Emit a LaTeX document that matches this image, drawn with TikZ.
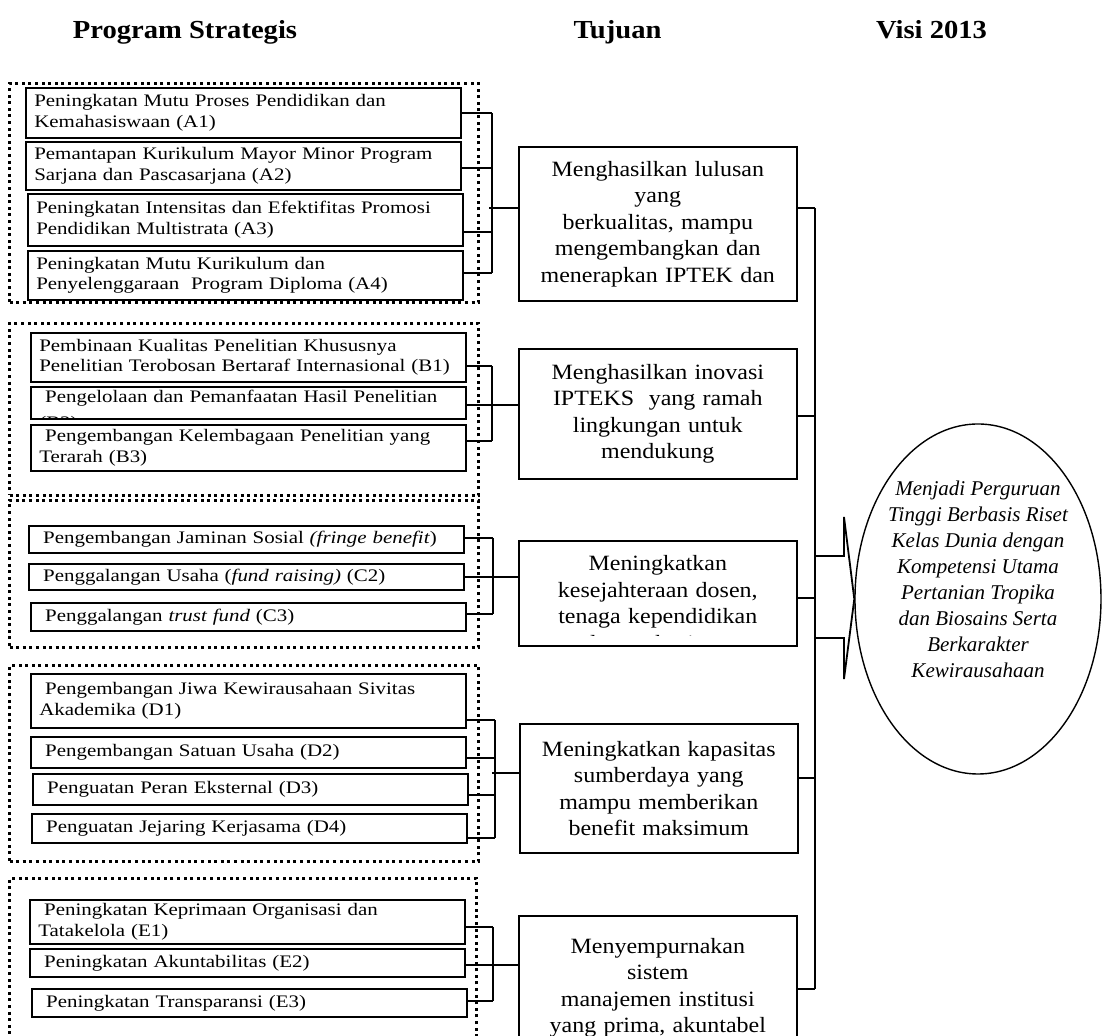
\documentclass[tikz,border=0pt]{standalone}
\usepackage{fontspec}
\setmainfont{Liberation Serif}
\newfontfamily\boxfont{Liberation Serif}[FakeStretch=1.19]
\newfontfamily\goalfont{Liberation Serif}[FakeStretch=1.1]
\usepackage{tikz}
\usetikzlibrary{shapes.geometric}

\begin{document}
\begin{tikzpicture}[
  x=1pt, y=-1pt,
  head/.style={anchor=base, font=\goalfont\bfseries\fontsize{13pt}{15pt}\selectfont},
  grp/.style={draw, line width=1.5pt, dash pattern=on 1.5pt off 1.8pt, anchor=north west, minimum width=234.5pt, inner sep=0pt},
  pbox/.style={draw, line width=0.8pt, anchor=north west, align=left, text width=209pt, inner xsep=4.25pt, inner ysep=1.5pt, font=\boxfont\fontsize{8.8pt}{10.3pt}\selectfont},
  ptext/.style={pbox, draw=none},
  gbox/.style={draw, line width=0.8pt, anchor=north west, align=center, text width=131pt, inner xsep=4pt, inner ysep=1.5pt, font=\goalfont\fontsize{10.9pt}{13.25pt}\selectfont},
  gtext/.style={gbox, draw=none, anchor=center},
  visi/.style={draw, ellipse, line width=0.7pt, minimum width=123pt, minimum height=175pt, inner sep=0pt},
  visitext/.style={align=center, font=\itshape\fontsize{10.5pt}{13pt}\selectfont},
  conn/.style={line width=0.9pt},
  trunk/.style={line width=1.1pt}
]
\useasboundingbox (0,0) rectangle (552.5,518);
\clip (0,0) rectangle (552.5,518);

% column headings
\node[head] (hprog) at (92.5,19.2) {Program Strategis};
\node[head] (htuj) at (308.75,19.2) {Tujuan};
\node[head] (hvisi) at (465.75,19.2) {Visi 2013};

% dotted group frames
\node[grp, minimum height=109.5pt] (grpa) at (4,41) {};
\node[grp, minimum height=86pt] (grpb) at (4,161) {};
\node[grp, minimum height=73.5pt] (grpc) at (4,249.5) {};
\node[grp, minimum height=98pt] (grpd) at (4,332) {};
\node[grp, minimum height=100pt, minimum width=233.5pt] (grpe) at (4,438.5) {};

% program boxes
\node[pbox, minimum height=25pt] (a1) at (12.5,43.5) {Peningkatan Mutu Proses Pendidikan dan\\Kemahasiswaan (A1)};
\node[pbox, minimum height=24pt] (a2) at (12.5,70.5) {Pemantapan Kurikulum Mayor Minor Program\\Sarjana dan Pascasarjana (A2)};
\node[pbox, minimum height=26pt] (a3) at (13.5,96.5) {Peningkatan Intensitas dan Efektifitas Promosi\\Pendidikan Multistrata (A3)};
\node[pbox, minimum height=24.5pt] (a4) at (13.5,125) {Peningkatan Mutu Kurikulum dan\\Penyelenggaraan\ \ Program Diploma (A4)};

\node[pbox, minimum height=24.5pt] (b1) at (15,166) {Pembinaan Kualitas Penelitian Khususnya\\Penelitian Terobosan Bertaraf Internasional (B1)};
\node[pbox, minimum height=16pt] (b2) at (15,193) {};
\begin{scope}
  \clip (b2.north west) rectangle (b2.south east);
  \node[ptext] (b2t) at (b2.north west) {\ Pengelolaan dan Pemanfaatan Hasil Penelitian\\[2.8pt](B2)};
\end{scope}
\node[pbox, minimum height=23pt] (b3) at (15,212) {\ Pengembangan Kelembagaan Penelitian yang\\Terarah (B3)};

\node[pbox, minimum height=13.5pt] (c1) at (14,262.5) {\ Pengembangan Jaminan Sosial \textit{(fringe benefit})};
\node[pbox, minimum height=13pt] (c2) at (14,281.5) {\ Penggalangan Usaha (\textit{fund raising)} (C2)};
\node[pbox, minimum height=14pt] (c3) at (15,301) {\ Penggalangan \textit{trust fund} (C3)};

\node[pbox, minimum height=27pt] (d1) at (15,336.5) {\ Pengembangan Jiwa Kewirausahaan Sivitas\\Akademika (D1)};
\node[pbox, minimum height=15.5pt] (d2) at (15,368) {\ Pengembangan Satuan Usaha (D2)};
\node[pbox, minimum height=15.5pt] (d3) at (16,386.5) {\ Penguatan Peran Eksternal (D3)};
\node[pbox, minimum height=14.5pt] (d4) at (15.5,406.5) {\ Penguatan Jejaring Kerjasama (D4)};

\node[pbox, minimum height=22pt] (e1) at (14.5,449.5) {\ Peningkatan Keprimaan Organisasi dan\\Tatakelola (E1)};
\node[pbox, minimum height=14pt] (e2) at (14.5,474) {\ Peningkatan Akuntabilitas (E2)};
\node[pbox, minimum height=14pt] (e3) at (15.5,494) {\ Peningkatan Transparansi (E3)};

% goals
\node[gbox, minimum height=77pt] (g1) at (259,73) {Menghasilkan lulusan\\yang\\berkualitas, mampu\\mengembangkan dan\\menerapkan IPTEK dan};
\node[gbox, minimum height=65pt] (g2) at (259,174) {Menghasilkan inovasi\\IPTEKS\ \ yang ramah\\lingkungan untuk\\mendukung};
\node[gbox, minimum height=52.5pt] (g3) at (259,270) {};
\begin{scope}
  \clip (g3.north west) rectangle ([yshift=5.5pt]g3.south east);
  \node[gtext] (g3t) at ([yshift=-5pt]g3.center) {Meningkatkan\\kesejahteraan dosen,\\tenaga kependidikan\\dan mahasiswa};
\end{scope}
\node[gbox, minimum height=64.5pt] (g4) at (259.5,361.5) {Meningkatkan kapasitas\\sumberdaya yang\\mampu memberikan\\benefit maksimum};
\node[gbox, minimum height=72pt] (g5) at (259,457.5) {Menyempurnakan\\sistem\\manajemen institusi\\yang prima, akuntabel};

% vision
\node[visi] (visi) at (489,299.5) {};
\node[visitext] (visit) at ([yshift=10pt]visi.center) {Menjadi Perguruan\\Tinggi Berbasis Riset\\Kelas Dunia dengan\\Kompetensi Utama\\Pertanian Tropika\\dan Biosains Serta\\Berkarakter\\Kewirausahaan};

% brackets from programs to goals
\coordinate (ja) at (246,104);
\coordinate (jb) at (246,202.5);
\coordinate (jc) at (246.5,288.5);
\coordinate (jd) at (247.5,386.5);
\coordinate (je) at (246.5,482.5);
\foreach \n/\y in {a1/56.5, a2/84, a3/116, a4/136.5} \draw[conn] (\n.east |- 0,\y) -- (ja |- 0,\y);
\foreach \n/\y in {b1/183, b2/202.5, b3/220.5} \draw[conn] (\n.east |- 0,\y) -- (jb |- 0,\y);
\foreach \n/\y in {c1/269, c2/288.5, c3/307} \draw[conn] (\n.east |- 0,\y) -- (jc |- 0,\y);
\foreach \n/\y in {d1/360, d2/379, d3/397.5, d4/419} \draw[conn] (\n.east |- 0,\y) -- (jd |- 0,\y);
\foreach \n/\y in {e1/463.5, e2/482.5, e3/500.5} \draw[conn] (\n.east |- 0,\y) -- (je |- 0,\y);
\draw[conn] (ja |- 0,56.5) -- (ja |- 0,136.5);
\draw[conn] (jb |- 0,183) -- (jb |- 0,220.5);
\draw[conn] (jc |- 0,269) -- (jc |- 0,307);
\draw[conn] (jd |- 0,360) -- (jd |- 0,419);
\draw[conn] (je |- 0,463.5) -- (je |- 0,500.5);
\foreach \j/\g in {ja/g1, jb/g2, jc/g3, jd/g4, je/g5} \draw[conn] ([xshift=-1.5pt]\j) -- (\g.west |- \j);

% trunk into the vision
\coordinate (t1) at (407.5,104);
\coordinate (t2) at (407.5,208);
\coordinate (t3) at (407.5,299);
\coordinate (t4) at (407.5,389);
\coordinate (t5) at (407.5,494.5);
\draw[trunk] (t1) -- (t5);
\foreach \g/\t in {g1/t1, g2/t2, g3/t3, g4/t4, g5/t5} \draw[conn] (\g.east |- \t) -- (\t);
\draw[conn] (t3 |- 0,278) -- (422,278) -- (422,258.5) -- (visi.west) -- (422,339.5) -- (422,319) -- (t3 |- 0,319);
\end{tikzpicture}
\end{document}
